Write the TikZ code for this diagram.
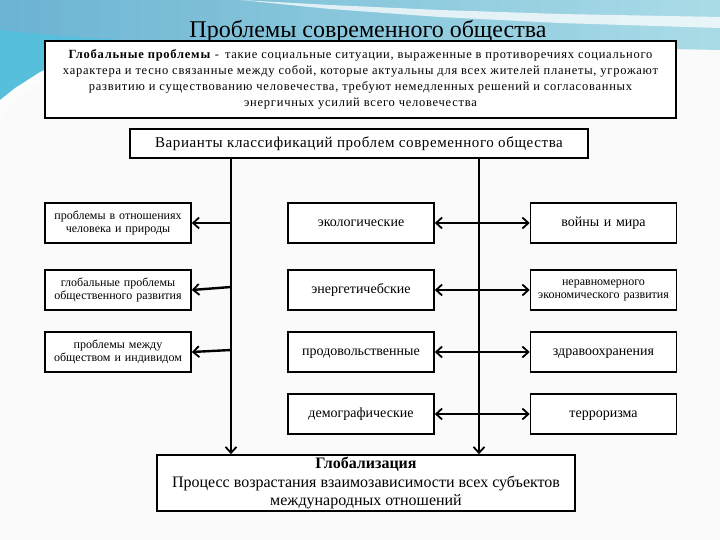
\documentclass[tikz,border=0pt]{standalone}
\usepackage{fontspec}
\setmainfont{Liberation Serif}
\usetikzlibrary{arrows.meta}

\definecolor{pagebg}{HTML}{FAFAFA}
\definecolor{swoopA}{HTML}{6CB4D3}
\definecolor{swoopB}{HTML}{A8DBE6}
\definecolor{swoopC}{HTML}{4CC4E0}

\tikzset{
  card/.style={draw, line width=1.6pt, fill=white, align=center, inner sep=1pt},
  sidebox/.style={card, minimum width=146pt, minimum height=40pt, text width=144pt, font=\fontsize{12}{13}\selectfont},
  bigword/.style={font=\fontsize{14}{15}\selectfont, text height=9pt, text depth=3pt},
  feed/.style={line width=2.4pt, -{Straight Barb[length=6pt,width=11pt,line width=1.8pt]}},
  pair/.style={line width=2.4pt, {Straight Barb[length=6pt,width=11pt,line width=1.8pt]}-{Straight Barb[length=6pt,width=11pt,line width=1.8pt]}},
}

\begin{document}
\begin{tikzpicture}[x=1pt,y=-1pt]
\useasboundingbox (0,0) rectangle (720,540);
% backdrop:
\fill[pagebg] (0,0) rectangle (720,540);
\begin{scope}
  \clip (0,0) -- (720,0) -- (720,50) -- (620,48) -- (500,45) -- (380,43) -- (260,42)
    -- (180,43) -- (120,47) -- (75,56) -- (40,72) -- (15,88) -- (0,100) -- cycle;
  \foreach \i in {0,...,35}{
    \pgfmathtruncatemacro{\pct}{100-\i*100/35}
    \fill[swoopA!\pct!swoopB] (\i*20,0) rectangle ++(21,110);
  }
  \fill[swoopC, opacity=0.7] (0,30) -- (60,36) -- (120,40) -- (170,43) -- (0,110) -- cycle;
\end{scope}
% white streaks:
\fill[white, opacity=0.75] (240,0) -- (330,5) -- (440,10) -- (560,14) -- (720,17)
  -- (720,28) -- (560,23) -- (440,17) -- (330,9) -- cycle;
\fill[white, opacity=0.5] (0,100) -- (15,88) -- (40,72) -- (75,56) -- (120,47)
  -- (100,56) -- (55,72) -- (20,96) -- (0,118) -- cycle;

% title and definition:
\node (title) at (368,31) {\fontsize{24}{26}\selectfont Проблемы современного общества};
\node[card, line width=2.4pt, minimum width=631pt, minimum height=77pt,
  font=\addfontfeature{LetterSpace=6}\fontsize{12.5}{16}\selectfont]
  (defn) at (360.5,79.5)
  {\textbf{Глобальные проблемы} -\, такие социальные ситуации, выраженные в противоречиях социального\\
   характера и тесно связанные между собой, которые актуальны для всех жителей планеты, угрожают\\
   развитию и существованию человечества, требуют немедленных решений и согласованных\\
   энергичных усилий всего человечества};
\node[card, minimum width=458pt, minimum height=29pt,
  font=\addfontfeature{LetterSpace=4}\fontsize{15}{17}\selectfont]
  (kinds) at (359,143.5) {Варианты классификаций проблем современного общества};

% left column:
\node[sidebox] (rel1) at (118,223) {проблемы в отношениях\\человека и природы};
\node[sidebox] (rel2) at (118,290) {глобальные проблемы\\общественного развития};
\node[sidebox] (rel3) at (118,352) {проблемы между\\обществом и индивидом};

% middle column:
\node[sidebox, bigword] (eco) at (361,223) {экологические};
\node[sidebox, bigword] (nrg) at (361,290) {энергетичебские};
\node[sidebox, bigword] (food) at (361,352) {продовольственные};
\node[sidebox, bigword] (demo) at (361,414) {демографические};

% right column:
\node[sidebox, bigword] (war) at (603.5,223) {войны и мира};
\node[sidebox] (econ) at (603.5,290) {неравномерного\\экономического развития};
\node[sidebox, bigword] (health) at (603.5,352) {здравоохранения};
\node[sidebox, bigword] (terr) at (603.5,414) {терроризма};

% globalisation:
\node[card, minimum width=418pt, minimum height=56pt, font=\fontsize{16}{18.5}\selectfont]
  (glob) at (366,483)
  {\textbf{Глобализация}\\Процесс возрастания взаимозависимости всех субъектов\\международных отношений};

% trunks:
\coordinate (ta) at (231,158);
\coordinate (tb) at (479,158);
\draw[feed] (ta) -- (ta |- glob.north);
\draw[feed] (tb) -- (tb |- glob.north);
\coordinate (ja) at (231,223);
\coordinate (jb) at (231,287);
\coordinate (jc) at (231,350);
\draw[feed] (ja) -- (rel1.east);
\draw[feed] (jb) -- (rel2.east);
\draw[feed] (jc) -- (rel3.east);

% pairs:
\draw[pair] (eco.east) -- (war.west);
\draw[pair] (nrg.east) -- (econ.west);
\draw[pair] (food.east) -- (health.west);
\draw[pair] (demo.east) -- (terr.west);
\end{tikzpicture}
\end{document}
